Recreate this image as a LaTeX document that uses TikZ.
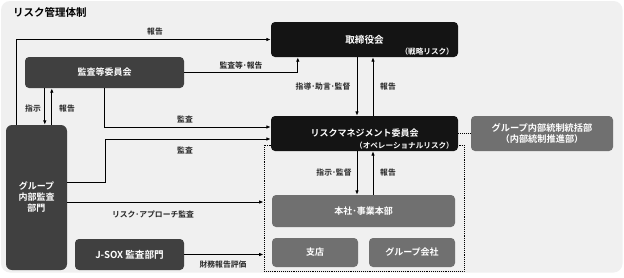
\documentclass[tikz,border=0pt]{standalone}
\usepackage{fontspec}
\setmainfont{Noto Sans CJK JP}[BoldFont={Noto Sans CJK JP Bold}]
\usetikzlibrary{arrows.meta}
\definecolor{bgc}{HTML}{F0F0F0}
\definecolor{blackbox}{HTML}{141414}
\definecolor{darkbox}{HTML}{404040}
\definecolor{midbox}{HTML}{707070}
\tikzset{
  box/.style={rounded corners=4pt, draw=none, text=white, font=\bfseries\fontsize{9}{11}\selectfont, inner sep=0pt, align=center},
  blk/.style={box, fill=blackbox},
  drk/.style={box, fill=darkbox},
  mid/.style={box, fill=midbox},
  arr/.style={line width=0.9pt, -{Latex[length=4.5pt,width=3.6pt]}, draw=black},
  lbl/.style={font=\bfseries\fontsize{7.8}{9}\selectfont, text=black!85, inner sep=0pt},
  sub/.style={font=\bfseries\fontsize{7.6}{9}\selectfont, text=white, inner sep=0pt},
  dots/.style={line width=0.9pt, densely dotted, draw=black}
}
\begin{document}
\begin{tikzpicture}[x=1pt,y=-1pt]
\useasboundingbox (0,0) rectangle (624,277);
\fill[white] (0,0) rectangle (624,277);
\fill[bgc, rounded corners=9pt] (1,1) rectangle (622.5,272.5);
\node[font=\bfseries\fontsize{10.5}{12}\selectfont, anchor=west, inner sep=0pt] (title) at (13,12) {リスク管理体制};

% dotted group box
\node[dots, minimum width=200, minimum height=126, inner sep=0pt] (grp) at (364,208) {};

% nodes
\node[blk, minimum width=187, minimum height=35] (tor) at (364.5,39.5) {};
\node[box, font=\bfseries\fontsize{9.6}{11}\selectfont] (torT) at (364.5,40) {取締役会};
\node[sub, anchor=east] (torS) at (454,52) {（戦略リスク）};

\node[blk, minimum width=187, minimum height=35] (rm) at (364.5,133.5) {};
\node[box] (rmT) at (364.5,133.5) {リスクマネジメント委員会};
\node[sub, anchor=east] (rmS) at (454,146) {（オペレーショナルリスク）};

\node[mid, minimum width=142, minimum height=35, font=\bfseries\fontsize{9.2}{11}\selectfont] (gic) at (542,133.5) {グループ内部統制統括部\\（内部統制推進部）};

\node[drk, minimum width=159, minimum height=31] (ac) at (104.5,72.5) {監査等委員会};
\node[drk, minimum width=61, minimum height=145, rounded corners=6pt] (ia) at (36.5,197.5) {グループ\\内部監査\\部門};
\node[drk, minimum width=109, minimum height=31, font=\bfseries\fontsize{9.6}{11}\selectfont] (jsox) at (129.5,254.5) {J-SOX 監査部門};

\node[mid, minimum width=183, minimum height=32] (hq) at (363.5,211) {本社･事業本部};
\node[mid, minimum width=86, minimum height=29] (br) at (315,252.5) {支店};
\node[mid, minimum width=86, minimum height=29] (gc) at (412,252.5) {グループ会社};

% dotted link
\draw[dots] (rm.east) -- (gic.west);

% connectors
\draw[arr] ([xshift=11]ia.north west) |- (tor.west);
\node[lbl] (l1) at (155,32) {報告};

\draw[arr] (ac.east) -| ([xshift=27]tor.south west);
\node[lbl] (l2) at (241,65.5) {監査等･報告};

\draw[arr] ([xshift=20]ac.south west) -- ([xshift=20]ac.south west |- ia.north);
\draw[arr] ([xshift=27]ac.south west |- ia.north) -- ([xshift=27]ac.south west);
\node[lbl] (l3) at (33,109) {指示};
\node[lbl] (l4) at (67,109) {報告};

\draw[arr] ([xshift=80]ac.south west) |- ([yshift=6.5]rm.west);
\node[lbl] (l5) at (185,119.5) {監査};

\draw[arr] ([yshift=15.5]ia.east) -- ++(38,0) |- ([yshift=-5.5]rm.west);
\node[lbl] (l6) at (185,150) {監査};

\draw[arr] ([yshift=-4.5]ia.east) -- ([yshift=-4.5]ia.east -| grp.west);
\node[lbl] (l7) at (153,214) {リスク･アプローチ監査};

\draw[arr] (jsox.east) -- (jsox.east -| grp.west);
\node[lbl] (l8) at (223,265) {財務報告評価};

\draw[arr] ([xshift=-7.5]tor.south) -- ([xshift=-7.5]rm.north);
\draw[arr] ([xshift=8.5]rm.north) -- ([xshift=8.5]tor.south);
\node[lbl] (l9) at (323,87) {指導･助言･監督};
\node[lbl] (l10) at (388,87) {報告};

\draw[arr] ([xshift=-7.5]rm.south) -- ([xshift=-7.5]rm.south |- hq.north);
\draw[arr] ([xshift=8.5]rm.south |- hq.north) -- ([xshift=8.5]rm.south);
\node[lbl] (l11) at (334,173) {指示･監督};
\node[lbl] (l12) at (388,173) {報告};
\end{tikzpicture}
\end{document}
